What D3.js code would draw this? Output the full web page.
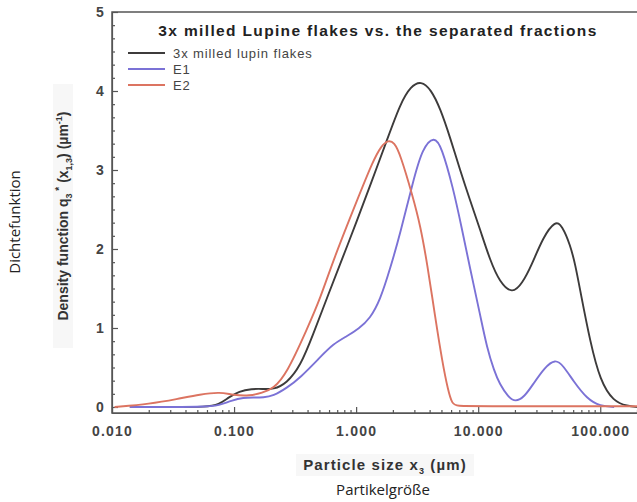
<!DOCTYPE html>
<html>
<head>
<meta charset="utf-8">
<script src="https://cdn.jsdelivr.net/npm/d3@7"></script>
<style>
  body { margin: 0; background: #fff; }
  svg { display: block; }
  .frame { stroke: #555; stroke-width: 1.5; fill: none; }
  .axis path, .axis line { stroke: #555; stroke-width: 1.2; }
  .axis text { font-family: "Liberation Sans", Arial, sans-serif; font-weight: bold; font-size: 14px; letter-spacing: 1.2px; fill: #444; }
  .curve { fill: none; stroke-width: 1.9; }
</style>
</head>
<body>
<div class="chart-container"></div>
<script>
// particle size (µm) and density values
const millSize = [0.014, 0.03, 0.06, 0.075, 0.09, 0.11, 0.14, 0.17, 0.21, 0.27, 0.35, 0.44, 0.6, 0.78, 1.0, 1.3, 1.79, 2.3, 2.8, 3.41, 4.1, 4.89, 5.92, 7.1, 8.56, 10.4, 12.5, 15.0, 19.0, 22.9, 27.5, 34, 42.8, 48.5, 56.8, 62.5, 68.6, 82.8, 100, 128, 168, 200];
const millDensity = [0, 0, 0, 0.03, 0.12, 0.2, 0.23, 0.23, 0.22, 0.3, 0.52, 0.9, 1.45, 1.9, 2.33, 2.8, 3.38, 3.84, 4.06, 4.13, 4.02, 3.78, 3.4, 3.0, 2.62, 2.24, 1.86, 1.58, 1.43, 1.56, 1.8, 2.15, 2.36, 2.3, 2.05, 1.8, 1.47, 0.82, 0.33, 0.07, 0.01, 0];

const e1Size = [0.014, 0.06, 0.075, 0.095, 0.12, 0.143, 0.175, 0.209, 0.27, 0.348, 0.5, 0.65, 0.85, 1.05, 1.3, 1.57, 1.9, 2.3, 2.93, 3.5, 4.36, 5.0, 6.24, 7.3, 8.56, 10.4, 11.8, 13.5, 15.0, 17.6, 20.1, 24, 28.2, 35, 42.8, 50, 60.1, 78.2, 100, 130];
const e1Density = [0, 0, 0.02, 0.08, 0.12, 0.12, 0.12, 0.14, 0.24, 0.37, 0.62, 0.8, 0.9, 0.99, 1.12, 1.35, 1.75, 2.2, 2.86, 3.28, 3.43, 3.3, 2.77, 2.28, 1.76, 1.16, 0.75, 0.46, 0.29, 0.13, 0.06, 0.13, 0.29, 0.5, 0.61, 0.52, 0.33, 0.1, 0.01, 0];

const e2Size = [0.0105, 0.0205, 0.034, 0.053, 0.077, 0.098, 0.135, 0.17, 0.209, 0.27, 0.4, 0.51, 0.65, 1.02, 1.38, 1.6, 1.83, 2.05, 2.3, 2.93, 3.35, 3.82, 4.44, 5.07, 5.68, 6.12, 6.66, 10, 200];
const e2Density = [0, 0.04, 0.1, 0.16, 0.19, 0.15, 0.14, 0.18, 0.23, 0.42, 1.0, 1.38, 1.86, 2.62, 3.12, 3.3, 3.38, 3.35, 3.2, 2.65, 2.3, 1.82, 1.14, 0.58, 0.2, 0.04, 0.01, 0.01, 0.01];

const seriesNames = ["3x milled lupin flakes", "E1", "E2"];
const seriesColors = ["#3d3b3b", "#7b72d6", "#dc7461"];

const xTicks = [0.01, 0.1, 1, 10, 100];
const yTicks = [0, 1, 2, 3, 4, 5];

const width = 637, height = 502;

const svg = d3.select(".chart-container").append("svg")
    .attr("width", width)
    .attr("height", height);

const x = d3.scaleLog().domain([0.01, 200]).range([112, 637]);
const y = d3.scaleLinear().domain([-0.076, 5]).range([413, 12]);

// faint grey backing behind the axis titles (scan artefact)
svg.append("rect").attr("x", 53).attr("y", 84).attr("width", 20).attr("height", 264).style("fill", "#f7f7f7");
svg.append("rect").attr("x", 296).attr("y", 454).attr("width", 178).attr("height", 22).style("fill", "#f7f7f7");

// minor ticks
const xMinor = [];
[0.01, 0.1, 1, 10, 100].forEach((d) => {
  for (let k = 2; k <= 9; k++) {
    if (d * k <= 200) xMinor.push(d * k);
  }
});
const yMinor = d3.range(0, 30).map((i) => i / 6).filter((v) => v % 1 !== 0);

svg.append("g")
    .attr("class", "axis")
    .attr("transform", "translate(0,413)")
    .call(d3.axisBottom(x).tickValues(xMinor).tickSize(-3).tickSizeOuter(0).tickFormat(""));

svg.append("g")
    .attr("class", "axis")
    .attr("transform", "translate(0,413)")
    .call(d3.axisBottom(x).tickValues(xTicks).tickSizeInner(-6).tickSizeOuter(0).tickPadding(13).tickFormat(d3.format(".3f")));

svg.append("g")
    .attr("class", "axis")
    .attr("transform", "translate(112,0)")
    .call(d3.axisLeft(y).tickValues(yMinor).tickSize(-3).tickSizeOuter(0).tickFormat(""));

const yAxis = svg.append("g")
    .attr("class", "axis")
    .attr("transform", "translate(112,0)")
    .call(d3.axisLeft(y).tickValues(yTicks).tickSizeInner(-6).tickSizeOuter(0).tickPadding(7).tickFormat(d3.format("d")));
yAxis.selectAll(".domain").remove();

// frame: left, top, bottom
svg.append("path")
    .attr("class", "frame")
    .attr("d", `M637,${y(5)}H112V413H637`);

// curves
const line = d3.line()
    .x((d) => x(d[0]))
    .y((d) => y(d[1]))
    .curve(d3.curveBasis);

const series = [
  d3.zip(millSize, millDensity),
  d3.zip(e1Size, e1Density),
  d3.zip(e2Size, e2Density)
];

svg.append("defs").append("clipPath").attr("id", "plot")
  .append("rect").attr("x", 112).attr("y", 12).attr("width", 525).attr("height", 401);

svg.append("g").attr("clip-path", "url(#plot)")
  .selectAll("path")
    .data(series)
  .enter().append("path")
    .attr("class", "curve")
    .attr("d", line)
    .style("stroke", (d, i) => seriesColors[i]);

// title
svg.append("text")
    .attr("x", 378)
    .attr("y", 36)
    .attr("text-anchor", "middle")
    .style("font-family", "Liberation Sans, Arial, sans-serif")
    .style("font-weight", "bold")
    .style("font-size", "15.5px")
    .style("letter-spacing", "1.35px")
    .style("fill", "#222")
    .text("3x milled Lupine flakes vs. the separated fractions");

// legend
const legend = svg.selectAll(".legend")
    .data(seriesNames)
  .enter().append("g")
    .attr("class", "legend")
    .attr("transform", (d, i) => "translate(0," + (53 + i * 16) + ")");

legend.append("line")
    .attr("x1", 128).attr("x2", 165)
    .attr("y1", 0).attr("y2", 0)
    .style("stroke", (d, i) => seriesColors[i])
    .style("stroke-width", 1.8);

legend.append("text")
    .attr("x", 173)
    .attr("y", 4.5)
    .style("font-family", "Liberation Sans, Arial, sans-serif")
    .style("font-size", "13px")
    .style("letter-spacing", "0.9px")
    .style("fill", "#444")
    .text((d) => d);

// y title
const yTitle = svg.append("text")
    .attr("transform", "translate(68,216) rotate(-90)")
    .attr("text-anchor", "middle")
    .style("font-family", "Liberation Sans, Arial, sans-serif")
    .style("font-weight", "bold")
    .style("font-size", "14px")
    .style("fill", "#333");
yTitle.append("tspan").text("Density function q");
yTitle.append("tspan").attr("dy", 4).style("font-size", "9px").text("3");
yTitle.append("tspan").attr("dy", -9).style("font-size", "10px").text(" *");
yTitle.append("tspan").attr("dy", 5).text(" (x");
yTitle.append("tspan").attr("dy", 4).style("font-size", "9px").text("1,3");
yTitle.append("tspan").attr("dy", -4).text(") (µm");
yTitle.append("tspan").attr("dy", -6).style("font-size", "9px").text("-1");
yTitle.append("tspan").attr("dy", 6).text(")");

svg.append("text")
    .attr("transform", "translate(20,222) rotate(-90)")
    .attr("text-anchor", "middle")
    .style("font-family", "Open Sans, sans-serif")
    .style("font-size", "15px")
    .style("fill", "#222")
    .text("Dichtefunktion");

// x title
const xTitle = svg.append("text")
    .attr("x", 385)
    .attr("y", 470)
    .attr("text-anchor", "middle")
    .style("font-family", "Liberation Sans, Arial, sans-serif")
    .style("font-weight", "bold")
    .style("font-size", "15px")
    .style("letter-spacing", "1.1px")
    .style("fill", "#333");
xTitle.append("tspan").text("Particle size x");
xTitle.append("tspan").attr("dy", 4).style("font-size", "9px").text("3");
xTitle.append("tspan").attr("dy", -4).text(" (µm)");

svg.append("text")
    .attr("x", 383)
    .attr("y", 495)
    .attr("text-anchor", "middle")
    .style("font-family", "Open Sans, sans-serif")
    .style("font-size", "15px")
    .style("fill", "#222")
    .text("Partikelgröße");
</script>
</body>
</html>
